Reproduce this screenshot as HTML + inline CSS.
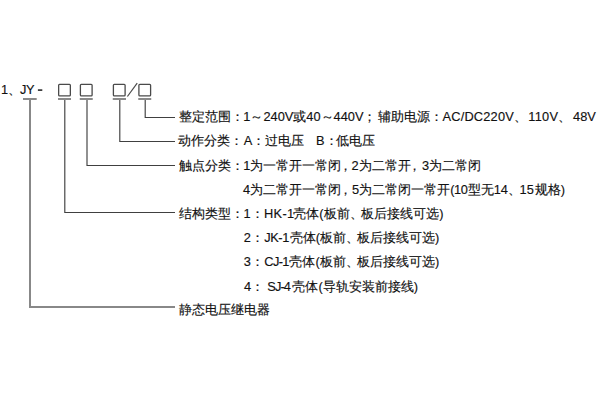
<!DOCTYPE html>
<html><head><meta charset="utf-8">
<style>
html,body{margin:0;padding:0;background:#fff;width:600px;height:400px;overflow:hidden;}
body{position:relative;font-family:"Liberation Sans",sans-serif;font-size:12.8px;color:#111;-webkit-text-stroke:0.15px #111;}
.t{position:absolute;white-space:nowrap;line-height:16px;}
svg{position:absolute;left:0;top:0;}
</style></head><body>
<svg width="600" height="400" viewBox="0 0 600 400">
<g fill="none" stroke="#4a4a4a" stroke-width="1.3">
<rect x="58.65" y="84.3" width="11.7" height="11.5" rx="0.9"/>
<rect x="80.4" y="84.3" width="11.7" height="11.5" rx="0.9"/>
<rect x="113.4" y="84.3" width="11.7" height="11.5" rx="0.9"/>
<rect x="138.9" y="84.3" width="11.7" height="11.5" rx="0.9"/>
<line x1="127.4" y1="96.5" x2="137.2" y2="83.2" stroke-width="1.2"/>
</g>
<g fill="none" stroke="#8a8a8a" stroke-width="2">
<path d="M23 99H36.7M58 99H71M79.75 99H92.75M112.75 99H126M138.25 99H151.25"/>
</g>
<g fill="none" stroke="#404040" stroke-width="1.15">
<path d="M145.2 100V117.5H175"/>
<path d="M119.8 100V141.5H175"/>
<path d="M87 100V165.5H175"/>
<path d="M64.8 100V212.5H175"/>
</g>
<g fill="none" stroke="#888" stroke-width="2">
<path d="M30 100V307H175"/>
</g>
</svg>
<div class="t" style="left:1px;top:82px;">1、</div>
<div class="t" style="left:20px;top:82px;">J</div><div class="t" style="left:25.9px;top:82px;">Y</div><svg width="600" height="400" style="position:absolute;left:0;top:0"><rect x="37.9" y="89.3" width="4.4" height="1.6" fill="#2a2a2a"/></svg>
<div class="t" id="s0" style="left:178.96px;top:108.90px;">整定范围：</div>
<div class="t" id="s1" style="left:243.32px;top:108.90px;">1～240V或40～440V；</div>
<div class="t" id="s2" style="left:377.65px;top:108.90px;">辅助电源：</div>
<div class="t" id="s3" style="left:442.49px;top:108.90px;letter-spacing:0.20px;">AC/DC220V、</div>
<div class="t" id="s4" style="left:528.21px;top:108.90px;letter-spacing:0.30px;">110V、</div>
<div class="t" id="s5" style="left:573.02px;top:108.90px;">48V</div>
<div class="t" id="s6" style="left:178.45px;top:133.32px;">动作分类：</div>
<div class="t" id="s7" style="left:243.63px;top:133.32px;">A：</div>
<div class="t" id="s8" style="left:264.50px;top:133.32px;">过电压</div>
<div class="t" id="s9" style="left:316.02px;top:133.32px;">B：</div>
<div class="t" id="s10" style="left:335.51px;top:133.32px;">低电压</div>
<div class="t" id="s11" style="left:179.17px;top:157.54px;">触点分类：</div>
<div class="t" id="s12" style="left:243.15px;top:157.54px;">1为一常开一常闭<span style="position:relative;left:-2.5px">，</span></div>
<div class="t" id="s13" style="left:351.47px;top:157.54px;">2为二常开<span style="position:relative;left:-2.5px">，</span></div>
<div class="t" id="s14" style="left:421.97px;top:157.54px;">3为二常闭</div>
<div class="t" id="s15" style="left:243.09px;top:181.91px;">4为二常开一常闭<span style="position:relative;left:-2.5px">，</span></div>
<div class="t" id="s16" style="left:351.88px;top:181.91px;">5为二常闭一常开</div>
<div class="t" id="s17" style="left:450.34px;top:181.91px;letter-spacing:-0.47px;">(10</div>
<div class="t" id="s18" style="left:468.27px;top:181.91px;">型无</div>
<div class="t" id="s19" style="left:493.75px;top:181.91px;">14、</div>
<div class="t" id="s20" style="left:519.53px;top:181.91px;">15</div>
<div class="t" id="s21" style="left:534.76px;top:181.91px;">规格)</div>
<div class="t" id="s22" style="left:179.03px;top:205.68px;">结构类型：</div>
<div class="t" id="s23" style="left:243.52px;top:205.68px;">1：</div>
<div class="t" id="s24" style="left:264.00px;top:205.68px;letter-spacing:0.36px;">HK-1</div>
<div class="t" id="s25" style="left:293.25px;top:205.68px;">壳体(板前、</div>
<div class="t" id="s26" style="left:361.33px;top:205.68px;">板后接线可选)</div>
<div class="t" id="s27" style="left:243.69px;top:230.25px;">2：</div>
<div class="t" id="s28" style="left:264.21px;top:230.25px;letter-spacing:-0.42px;">JK-1</div>
<div class="t" id="s29" style="left:289.68px;top:230.25px;">壳体(板前、</div>
<div class="t" id="s30" style="left:356.97px;top:230.25px;">板后接线可选)</div>
<div class="t" id="s31" style="left:243.67px;top:254.02px;">3：</div>
<div class="t" id="s32" style="left:264.27px;top:254.02px;letter-spacing:-0.62px;">CJ-1</div>
<div class="t" id="s33" style="left:289.39px;top:254.02px;">壳体(板前、</div>
<div class="t" id="s34" style="left:356.97px;top:254.02px;">板后接线可选)</div>
<div class="t" id="s35" style="left:243.94px;top:278.59px;">4：</div>
<div class="t" id="s36" style="left:267.27px;top:278.59px;letter-spacing:-0.88px;">SJ-4</div>
<div class="t" id="s37" style="left:292.46px;top:278.59px;">壳体(</div>
<div class="t" id="s38" style="left:322.69px;top:278.59px;">导轨安装前接线)</div>
<div class="t" id="s39" style="left:179.49px;top:302.41px;">静态电压继电器</div>
</body></html>
